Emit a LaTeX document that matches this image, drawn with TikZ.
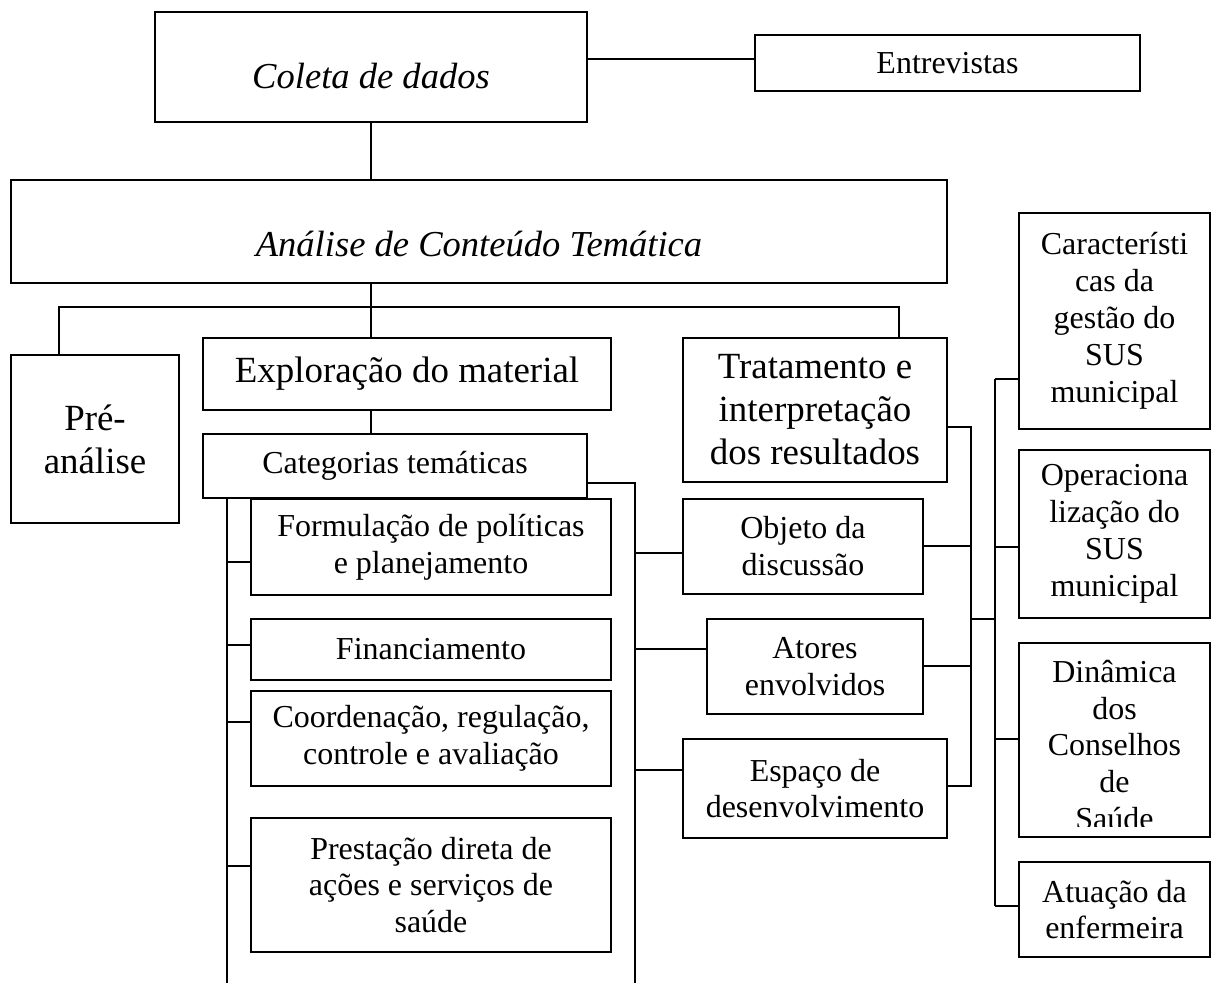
\documentclass[tikz,border=0pt]{standalone}
\usepackage{fontspec}
\setmainfont{Liberation Serif}
\usetikzlibrary{positioning,calc}

\begin{document}
\begin{tikzpicture}[x=0.02cm,y=-0.02cm,line width=0.04cm,
  box/.style={draw,align=center,inner sep=2pt},
  sz/.style 2 args={minimum width=#1,minimum height=#2},
  big/.style={box,font=\fontsize{21pt}{24.5pt}\selectfont},
  ital/.style={box,font=\fontsize{20.8pt}{24pt}\selectfont\itshape,text depth=0pt},
  mid/.style={box,font=\fontsize{18.2pt}{21pt}\selectfont},
  thinlink/.style={line width=0.03cm}]
\useasboundingbox (0,0) rectangle (1212,983);
\node[ital,sz={8.64cm}{2.2cm},text height=25pt] (coleta) at (371,67) {Coleta de dados};
\node[mid,sz={7.7cm}{1.12cm}] (ent) at (947.5,63) {Entrevistas};
\node[ital,sz={18.72cm}{2.06cm},text height=27.9pt] (analise) at (479,231.5) {Análise de Conteúdo Temática};
\node[big,sz={3.36cm}{3.36cm}] (pre) at (95,439) {Pré-\\análise};
\node[big,sz={8.16cm}{1.44cm}] (expl) at (407,374) {Exploração do material};
\node[big,sz={5.28cm}{2.88cm}] (trat) at (815,410) {Tratamento e\\interpretação\\dos resultados};
\node[mid,sz={7.68cm}{1.28cm}] (cat) at (395,466) {Categorias temáticas};
\node[mid,sz={7.2cm}{1.92cm}] (form) at (431,547) {Formulação de políticas\\e planejamento};
\node[mid,sz={7.2cm}{1.22cm}] (fin) at (431,649.5) {Financiamento};
\node[mid,sz={7.2cm}{1.9cm}] (coord) at (431,738.5) {Coordenação, regulação,\\controle e avaliação};
\node[mid,sz={7.2cm}{2.68cm}] (prest) at (431,885) {Prestação direta de\\ações e serviços de\\saúde};
\node[mid,sz={4.8cm}{1.9cm}] (obj) at (803,546.5) {Objeto da\\discussão};
\node[mid,sz={4.32cm}{1.9cm}] (ator) at (815,666.5) {Atores\\envolvidos};
\node[mid,sz={5.28cm}{1.98cm}] (esp) at (815,788.5) {Espaço de\\desenvolvimento};
\node[mid,sz={3.82cm}{4.32cm}] (carac) at (1114.5,321) {Característi\\cas da\\gestão do\\SUS\\municipal};
\node[mid,sz={3.82cm}{3.36cm}] (oper) at (1114.5,534) {Operaciona\\lização do\\SUS\\municipal};
\begin{scope}
  \clip (1019,643) rectangle (1210,826);
  \node[mid,draw=none] (dint) at (1114.5,745) {Dinâmica\\dos\\Conselhos\\de\\Saúde};
\end{scope}
\node[box,sz={3.82cm}{3.88cm}] (din) at (1114.5,740) {};
\node[mid,sz={3.82cm}{1.9cm}] (atu) at (1114.5,909.5) {Atuação da\\enfermeira};
\draw[thinlink] (coleta.east |- 0,59) -- (ent.west |- 0,59);
\draw (coleta.south) -- (coleta.south |- analise.north);
\coordinate (bus) at (371,307);
\draw (coleta.south |- analise.south) -- (bus);
\draw (pre.north -| 59,0) |- (bus) -| (trat.north -| 899,0);
\draw (bus) -- (bus |- expl.north);
\draw (bus |- expl.south) -- (bus |- cat.north);
\coordinate (lsp) at (227,983);
\draw (cat.south -| lsp) -- (lsp);
\foreach \n/\y in {form/562,fin/645,coord/722,prest/866}
  \draw (lsp |- 0,\y) -- (\n.west |- 0,\y);
\coordinate (rsp) at (635,983);
\draw (cat.east |- 0,483) -| (rsp);
\foreach \n/\y in {obj/553,ator/649,esp/770}
  \draw (rsp |- 0,\y) -- (\n.west |- 0,\y);
\coordinate (tsp) at (971,619);
\coordinate (csp) at (995,619);
\draw (trat.east |- 0,427) -| (tsp |- 0,786) -- (esp.east |- 0,786);
\foreach \n/\y in {obj/546,ator/666}
  \draw (\n.east |- 0,\y) -- (tsp |- 0,\y);
\draw (tsp) -- (csp);
\draw (csp |- 0,379) -- (csp |- 0,906);
\foreach \n/\y in {carac/379,oper/547,din/739,atu/906}
  \draw (csp |- 0,\y) -- (\n.west |- 0,\y);
\end{tikzpicture}
\end{document}
